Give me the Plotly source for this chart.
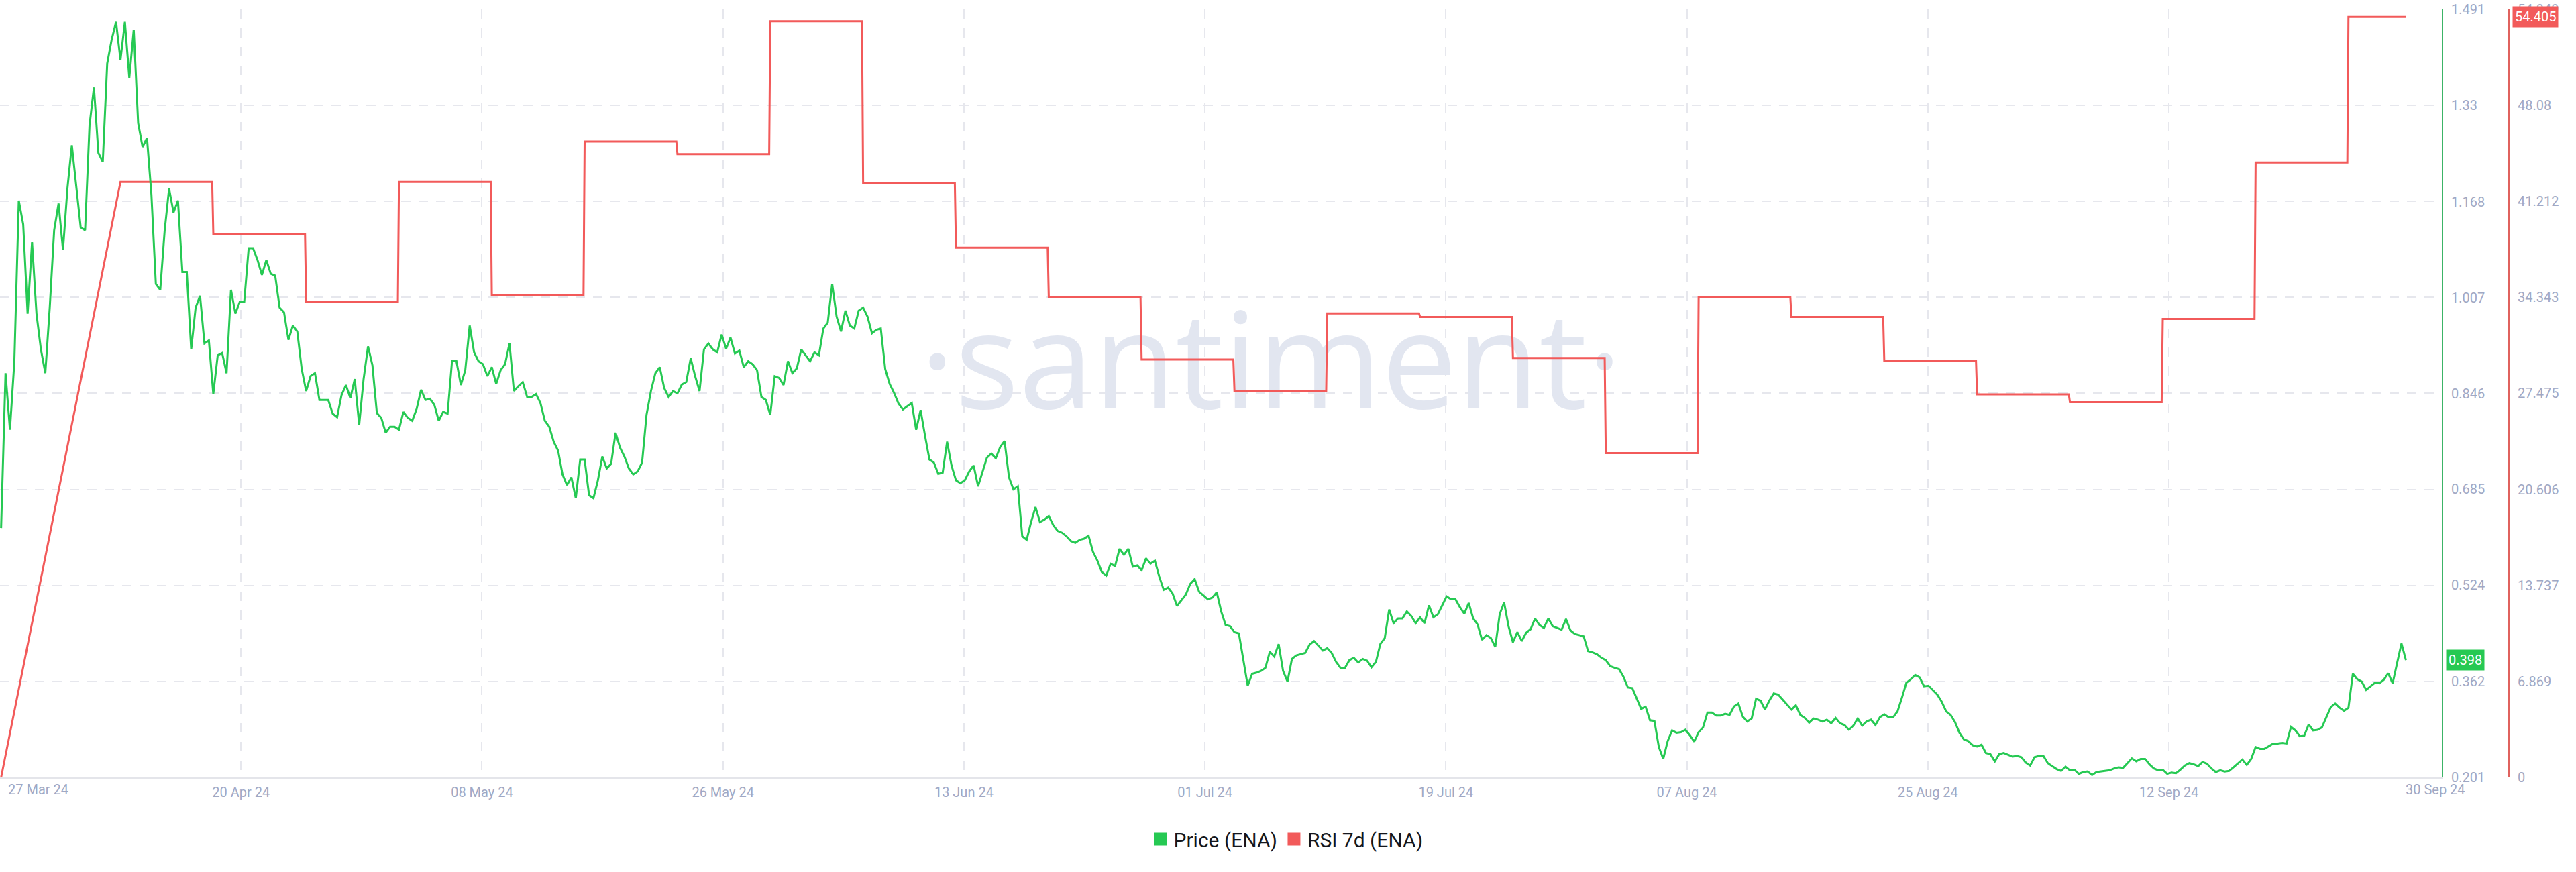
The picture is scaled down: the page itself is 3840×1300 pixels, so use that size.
import pandas as pd
import plotly.graph_objects as go

# ---------------- data ----------------
PRICE_START = "2024-04-02 00:00"
PRICE_STEP = "8h"
price = [
    0.62, 0.88, 0.785, 0.90, 1.17, 1.13, 0.98, 1.10, 0.98, 0.92,
    0.88, 0.99, 1.12, 1.165, 1.087, 1.19, 1.263, 1.19, 1.125, 1.12,
    1.296, 1.36, 1.25, 1.235, 1.40, 1.44, 1.47, 1.406, 1.47, 1.376,
    1.457, 1.30, 1.26, 1.275, 1.18, 1.03, 1.02, 1.12, 1.19, 1.15,
    1.17, 1.05, 1.05, 0.92, 0.99, 1.01, 0.93, 0.935, 0.845, 0.91,
    0.914, 0.88, 1.02, 0.98, 1.0, 1.0, 1.09, 1.09, 1.07, 1.045,
    1.07, 1.047, 1.044, 0.99, 0.982, 0.936, 0.96, 0.95, 0.887, 0.85,
    0.875, 0.88, 0.835, 0.835, 0.835, 0.812, 0.806, 0.843, 0.86, 0.838,
    0.87, 0.793, 0.87, 0.925, 0.893, 0.813, 0.805, 0.78, 0.79, 0.79,
    0.785, 0.815, 0.805, 0.80,
    0.82, 0.852, 0.835, 0.837, 0.827, 0.80, 0.815, 0.812, 0.90, 0.90,
    0.86, 0.885, 0.96, 0.915, 0.90, 0.895, 0.875, 0.89, 0.862, 0.885,
    0.895, 0.93, 0.85, 0.858, 0.865, 0.84, 0.84, 0.845, 0.83, 0.80,
    0.79, 0.765, 0.75, 0.71, 0.692, 0.705, 0.67, 0.735, 0.735, 0.675,
    0.67, 0.70, 0.74, 0.72, 0.728, 0.78, 0.755, 0.74, 0.72, 0.71,
    0.715, 0.73, 0.81, 0.85, 0.88, 0.89, 0.855, 0.84, 0.85, 0.846,
    0.861, 0.865, 0.905, 0.875, 0.85, 0.92, 0.93, 0.92, 0.915, 0.945,
    0.921, 0.94, 0.913, 0.918, 0.89, 0.90, 0.895, 0.885, 0.84, 0.835,
    0.81, 0.875, 0.872, 0.86, 0.90, 0.88, 0.888, 0.92, 0.91, 0.90,
    0.915, 0.91, 0.955, 0.965,
    1.03, 0.975, 0.95, 0.985, 0.96, 0.955, 0.985, 0.99, 0.975, 0.947,
    0.953, 0.955, 0.887, 0.862, 0.847, 0.829, 0.819, 0.825, 0.83, 0.785,
    0.818, 0.775, 0.735, 0.73, 0.711, 0.713, 0.765, 0.725, 0.70, 0.695,
    0.70, 0.715, 0.725, 0.69, 0.715, 0.738, 0.745, 0.737, 0.756, 0.766,
    0.705, 0.685, 0.69, 0.606, 0.60, 0.63, 0.655, 0.63, 0.634, 0.64,
    0.625, 0.615, 0.612, 0.606, 0.598, 0.595, 0.60, 0.602, 0.607, 0.58,
    0.565, 0.546, 0.54, 0.56, 0.556, 0.585, 0.575, 0.585, 0.555, 0.557,
    0.549, 0.569, 0.56, 0.565, 0.538, 0.516, 0.52, 0.51, 0.489, 0.498,
    0.508, 0.526, 0.534, 0.513, 0.506, 0.50, 0.503, 0.512, 0.48, 0.457,
    0.455,
    0.445, 0.443, 0.40, 0.355, 0.375, 0.377, 0.38, 0.385, 0.412, 0.404,
    0.425, 0.38, 0.362, 0.40, 0.406, 0.408, 0.41, 0.424, 0.43, 0.422,
    0.414, 0.418, 0.41, 0.395, 0.385, 0.385, 0.398, 0.402, 0.394, 0.40,
    0.397, 0.386, 0.395, 0.425, 0.435, 0.483, 0.46, 0.468, 0.468, 0.48,
    0.472, 0.46, 0.47, 0.46, 0.49, 0.47, 0.475, 0.49, 0.505, 0.50,
    0.50, 0.487, 0.476, 0.494, 0.468, 0.458, 0.432, 0.44, 0.435, 0.42,
    0.475, 0.495, 0.455, 0.428, 0.445, 0.43, 0.444, 0.45, 0.468, 0.457,
    0.452, 0.468, 0.455, 0.452, 0.449, 0.467, 0.448, 0.442, 0.44, 0.438,
    0.413, 0.411, 0.408, 0.402, 0.398, 0.388, 0.385, 0.383, 0.37, 0.352,
    0.351, 0.333, 0.316, 0.32,
    0.297, 0.296, 0.252, 0.232, 0.262, 0.28, 0.276, 0.277, 0.281, 0.272,
    0.261, 0.277, 0.285, 0.31, 0.31, 0.305, 0.305, 0.308, 0.306, 0.32,
    0.325, 0.303, 0.295, 0.30, 0.333, 0.33, 0.315, 0.33, 0.342, 0.34,
    0.332, 0.324, 0.315, 0.322, 0.306, 0.301, 0.293, 0.30, 0.298, 0.295,
    0.298, 0.292, 0.301, 0.292, 0.289, 0.281, 0.288, 0.30, 0.288, 0.295,
    0.298, 0.289, 0.302, 0.307, 0.302, 0.302, 0.312, 0.335, 0.36, 0.366,
    0.373, 0.369, 0.354, 0.355, 0.348, 0.34, 0.328, 0.312, 0.306, 0.294,
    0.276, 0.265, 0.262, 0.255, 0.253, 0.256, 0.242, 0.24, 0.228, 0.24,
    0.242, 0.239, 0.236, 0.237, 0.235, 0.226, 0.221, 0.235, 0.237, 0.237,
    0.225, 0.22, 0.215, 0.212,
    0.219, 0.213, 0.214, 0.207, 0.21, 0.211, 0.205, 0.21, 0.211, 0.212,
    0.213, 0.216, 0.218, 0.217, 0.225, 0.233, 0.228, 0.232, 0.232, 0.223,
    0.216, 0.213, 0.214, 0.207, 0.209, 0.208, 0.214, 0.221, 0.225, 0.223,
    0.22, 0.227, 0.224, 0.216, 0.21, 0.213, 0.211, 0.212, 0.218, 0.225,
    0.231, 0.222, 0.232, 0.252, 0.249, 0.249, 0.254, 0.258, 0.258, 0.259,
    0.258, 0.286, 0.28, 0.27, 0.271, 0.29, 0.28, 0.281, 0.285, 0.302,
    0.319, 0.325, 0.318, 0.313, 0.318, 0.375, 0.366, 0.362, 0.348, 0.354,
    0.36, 0.359, 0.365, 0.376, 0.359, 0.393, 0.426, 0.398,
]

RSI_ORIGIN_DATE = "2024-04-02 00:00"
RSI_ORIGIN_VALUE = 0.0
RSI_FIRST_WEEK = "2024-04-11 00:00"
rsi = [42.6, 38.9, 34.05, 42.6, 34.5, 45.5, 44.6, 54.1, 42.5, 37.9,
       34.35, 29.9, 27.65, 33.2, 32.95, 30.0, 23.2, 34.35, 32.95, 29.8,
       27.4, 26.85, 32.8, 44.0, 54.405]

price_ticks = [0.201, 0.362, 0.524, 0.685, 0.846, 1.007, 1.168, 1.33, 1.491]
rsi_ticks = [0, 6.869, 13.737, 20.606, 27.475, 34.343, 41.212, 48.08, 54.949]

X_RANGE = ["2024-04-01 22:00", "2024-10-03 01:00"]
X_TICK_STEP_HOURS = 436.1
N_X_TICKS = 10
FROM_LABEL = "27 Mar 24"
WATERMARK = "·santiment·"
PRICE_NAME = "Price (ENA)"
RSI_NAME = "RSI 7d (ENA)"

# ---------------- styles ----------------
GREEN = "#26c953"
RED = "#f25a5a"
AXIS_TEXT = "#a0a8c4"
GRID = "#e6e7ed"
FONT = "Roboto, Arial, sans-serif"
W, H = 3840, 1300
PLOT_RIGHT = 3640
PAPER_RIGHT = 3780

price_dates = pd.date_range(PRICE_START, periods=len(price), freq=PRICE_STEP)
week_dates = pd.date_range(RSI_FIRST_WEEK, periods=len(rsi), freq="7D")

rsi_x = [pd.Timestamp(RSI_ORIGIN_DATE)]
rsi_y = [RSI_ORIGIN_VALUE]
for i, v in enumerate(rsi):
    start = week_dates[i]
    end = week_dates[i + 1] - pd.Timedelta(hours=2) if i + 1 < len(rsi) else price_dates[-1]
    rsi_x += [start, end]
    rsi_y += [v, v]

x0 = pd.Timestamp(X_RANGE[0])
x1 = pd.Timestamp(X_RANGE[1])
xtick_vals = [x0 + pd.Timedelta(hours=X_TICK_STEP_HOURS * k) for k in range(N_X_TICKS)]
xtick_text = [""] + [d.strftime("%d %b %y") for d in xtick_vals[1:]]

fig = go.Figure()

# watermark (under the lines)
fig.add_trace(go.Scatter(
    x=[x0 + (x1 - x0) * 0.5205], y=[28.8], mode="text", text=[WATERMARK],
    textfont=dict(family="Open Sans", size=200, color="#e2e6f0"),
    textposition="middle center", hoverinfo="skip", showlegend=False,
    xaxis="x", yaxis="y",
))

fig.add_trace(go.Scatter(
    x=rsi_x, y=rsi_y, mode="lines", line=dict(color=RED, width=3),
    showlegend=False, xaxis="x", yaxis="y", hoverinfo="skip",
))
fig.add_trace(go.Scatter(
    x=price_dates, y=price, mode="lines", line=dict(color=GREEN, width=3),
    showlegend=False, xaxis="x", yaxis="y2", hoverinfo="skip",
))

# legend entries (square swatches)
fig.add_trace(go.Scatter(x=[None], y=[None], mode="markers", name=PRICE_NAME,
                         marker=dict(symbol="square", size=16, color=GREEN,
                                     line=dict(color=GREEN, width=3)), yaxis="y2"))
fig.add_trace(go.Scatter(x=[None], y=[None], mode="markers", name=RSI_NAME,
                         marker=dict(symbol="square", size=16, color=RED,
                                     line=dict(color=RED, width=3)), yaxis="y"))

dom_right = PLOT_RIGHT / PAPER_RIGHT

fig.update_layout(
    width=W, height=H,
    margin=dict(l=0, r=W - PAPER_RIGHT, t=14, b=141, pad=0),
    paper_bgcolor="white", plot_bgcolor="white",
    font=dict(family=FONT, color=AXIS_TEXT),
    hovermode=False,
    showlegend=True,
    legend=dict(orientation="h", x=1918 / PAPER_RIGHT, xanchor="center",
                y=-0.0803, yanchor="middle",
                font=dict(family=FONT, size=30, color="#15161c"),
                bgcolor="rgba(0,0,0,0)"),
    xaxis=dict(
        domain=[0, dom_right], range=[x0, x1], type="date",
        tickmode="array", tickvals=xtick_vals, ticktext=xtick_text,
        showgrid=True, gridcolor=GRID, gridwidth=2, griddash="14px,14px",
        showline=True, linecolor="#e4e5ea", linewidth=3,
        ticks="", tickfont=dict(family=FONT, size=20, color=AXIS_TEXT),
        ticklabelstandoff=2, zeroline=False, fixedrange=True,
    ),
    yaxis=dict(
        range=[0, rsi_ticks[-1]], side="right", anchor="free",
        position=3740 / PAPER_RIGHT,
        tickmode="array", tickvals=rsi_ticks, ticktext=[f"{v:g}" for v in rsi_ticks],
        showgrid=True, gridcolor=GRID, gridwidth=2, griddash="14px,12px",
        showline=True, linecolor="#e0625e", linewidth=2,
        ticks="", tickfont=dict(family=FONT, size=20, color=AXIS_TEXT),
        ticklabelstandoff=8, zeroline=False, fixedrange=True,
    ),
    yaxis2=dict(
        range=[price_ticks[0], price_ticks[-1]], overlaying="y", side="right",
        anchor="x",
        tickmode="array", tickvals=price_ticks, ticktext=[f"{v:g}" for v in price_ticks],
        showgrid=False,
        showline=True, linecolor="#3cb466", linewidth=2,
        ticks="", tickfont=dict(family=FONT, size=20, color=AXIS_TEXT),
        ticklabelstandoff=8, zeroline=False, fixedrange=True,
    ),
)

annotations = [
    dict(xref="paper", yref="y2", x=3646 / PAPER_RIGHT, y=price[-1],
         text=f"{price[-1]:.3f}", showarrow=False, xanchor="left", yanchor="middle",
         bgcolor=GREEN, borderpad=3, font=dict(family=FONT, size=20, color="white")),
    dict(xref="paper", yref="y", x=3745 / PAPER_RIGHT, y=rsi[-1],
         text=f"{rsi[-1]:.3f}", showarrow=False, xanchor="left", yanchor="middle",
         bgcolor=RED, borderpad=3, font=dict(family=FONT, size=20, color="white")),
    dict(xref="paper", yref="paper", x=0, y=0, xanchor="left", yanchor="top",
         xshift=10, yshift=-4, text=FROM_LABEL, showarrow=False,
         font=dict(family=FONT, size=20, color=AXIS_TEXT)),
    dict(xref="paper", yref="paper", x=3630 / PAPER_RIGHT, y=0, xanchor="center",
         yanchor="top", yshift=-4, text=price_dates[-1].strftime("%d %b %y"),
         showarrow=False, font=dict(family=FONT, size=20, color=AXIS_TEXT)),
]
fig.update_layout(annotations=annotations)

# remove the browser's default 8px page margin so the figure sits at the page origin
fig.write_html("out.html", config={"displayModeBar": False},
               post_script="document.body.style.margin='0';")
